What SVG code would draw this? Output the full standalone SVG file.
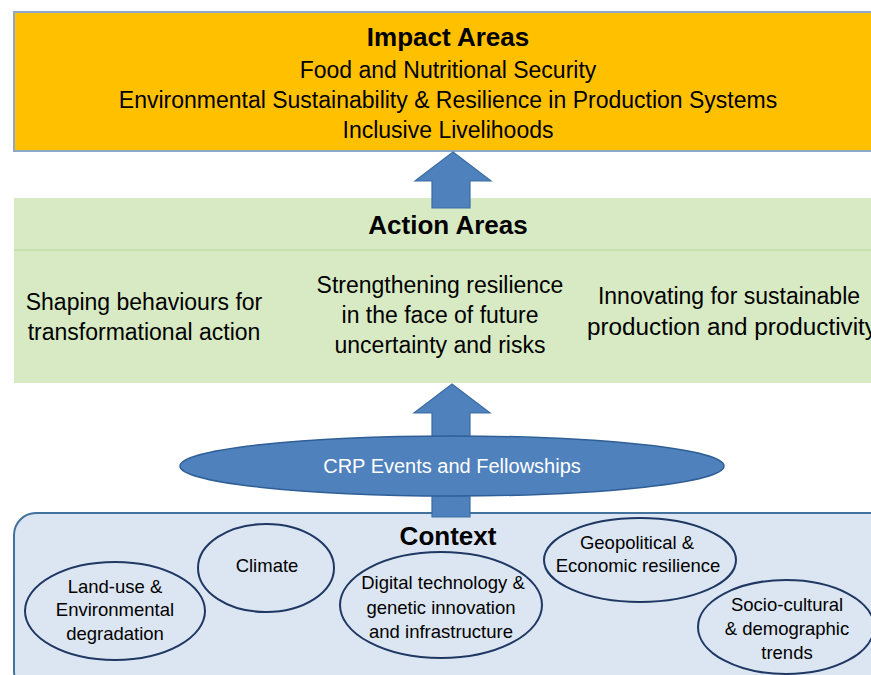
<svg xmlns="http://www.w3.org/2000/svg" width="871" height="675" viewBox="0 0 871 675">
<style>
text{font-family:"Liberation Sans",Arial,sans-serif;text-anchor:middle;fill:#000}
.h{font-weight:bold;font-size:26px}
.b{font-size:23px}
.c{font-size:18.5px}
.w{fill:#fff;font-size:20px}
.arrow{fill:#4F81BD;stroke:#3B6EA5;stroke-width:1.2}
.oval{fill:none;stroke:#1F3763;stroke-width:2}
</style>
<rect width="871" height="675" fill="#fff"/>
<g id="impact">
<rect x="14" y="12" width="870" height="139" fill="#FFC000" stroke="#8EA9C8" stroke-width="2"/>
<text class="h" x="448" y="46">Impact Areas</text>
<text class="b" x="448" y="78">Food and Nutritional Security</text>
<text class="b" x="448" y="108">Environmental Sustainability &amp; Resilience in Production Systems</text>
<text class="b" x="448" y="138">Inclusive Livelihoods</text>
</g>
<g id="action">
<rect x="14" y="198" width="870" height="185" fill="#D7EAC3"/>
<line x1="14" y1="250" x2="871" y2="250" stroke="#C6E0AE" stroke-width="2"/>
<text class="h" x="448" y="234">Action Areas</text>
<text class="b" x="144" y="310">Shaping behaviours for</text>
<text class="b" x="144" y="340">transformational action</text>
<text class="b" x="440" y="293">Strengthening resilience</text>
<text class="b" x="440" y="323">in the face of future</text>
<text class="b" x="440" y="353">uncertainty and risks</text>
<text class="b" x="729" y="304">Innovating for sustainable</text>
<text class="b" x="587" y="335" style="text-anchor:start" textLength="290" lengthAdjust="spacingAndGlyphs">production and productivity</text>
</g>
<g id="context">
<rect x="14" y="513" width="880" height="180" rx="22" fill="#DCE6F2" stroke="#41719C" stroke-width="2"/>
<text class="h" x="448" y="545">Context</text>
</g>
<g id="connectors">
<polygon class="arrow" points="453,152 491,181 470,181 470,208 432,208 432,181 415,181"/>
<polygon class="arrow" points="452,384 490,413 470,413 470,517 432,517 432,413 414,413"/>
</g>
<g id="crp">
<ellipse cx="452" cy="466" rx="272" ry="30" fill="#4F81BD" stroke="#2F5F96" stroke-width="1.5"/>
<text class="w" x="452" y="473">CRP Events and Fellowships</text>
</g>
<g id="landuse">
<ellipse class="oval" cx="115" cy="611" rx="90" ry="49"/>
<text class="c" x="115" y="593">Land-use &amp;</text>
<text class="c" x="115" y="616">Environmental</text>
<text class="c" x="115" y="640">degradation</text>
</g>
<g id="climate">
<ellipse class="oval" cx="266" cy="568" rx="68" ry="44"/>
<text class="c" x="267" y="572">Climate</text>
</g>
<g id="digital">
<ellipse class="oval" cx="441" cy="605" rx="101" ry="53"/>
<text class="c" x="443" y="589">Digital technology &amp;</text>
<text class="c" x="441" y="614">genetic innovation</text>
<text class="c" x="441" y="638">and infrastructure</text>
</g>
<g id="geopolitical">
<ellipse class="oval" cx="640" cy="560" rx="96" ry="42"/>
<text class="c" x="637" y="549">Geopolitical &amp;</text>
<text class="c" x="638" y="572">Economic resilience</text>
</g>
<g id="socio">
<ellipse class="oval" cx="786" cy="627" rx="88" ry="47"/>
<text class="c" x="787" y="611">Socio-cultural</text>
<text class="c" x="787" y="635">&amp; demographic</text>
<text class="c" x="787" y="659">trends</text>
</g>
</svg>
